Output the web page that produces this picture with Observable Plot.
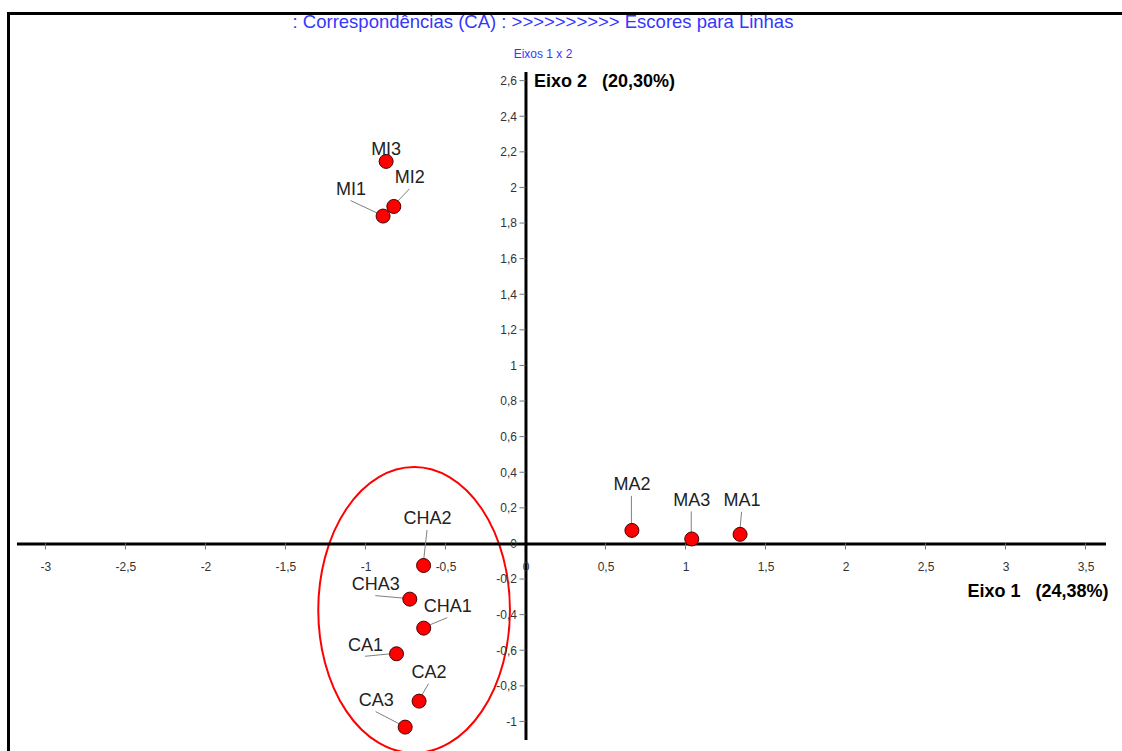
<!DOCTYPE html>
<html>
<head>
<meta charset="utf-8">
<script src="https://cdn.jsdelivr.net/npm/d3@7"></script>
<script src="https://cdn.jsdelivr.net/npm/@observablehq/plot@0.6"></script>
<style>
  html, body { margin: 0; padding: 0; background: #fff; }
  #wrap { position: relative; width: 1122px; height: 751px; overflow: hidden; font-family: "Liberation Sans", Arial, sans-serif; }
  #border { position: absolute; left: 7px; top: 12px; right: 0; bottom: 0; border-top: 3px solid #000; border-left: 3px solid #000; pointer-events: none; }
  #title { position: absolute; left: 0; width: 1086px; top: 11px; text-align: center; color: #3636ff; font-size: 18.5px; line-height: 22px; white-space: pre; }
  #subtitle { position: absolute; left: 0; width: 1086px; top: 47px; text-align: center; color: #3636ff; font-size: 12px; line-height: 14px; }
  #chart { position: absolute; left: 0; top: 0; }
</style>
</head>
<body>
<div id="wrap">
  <div id="chart"></div>
  <div id="border"></div>
  <div id="title">: Correspondências (CA) : &gt;&gt;&gt;&gt;&gt;&gt;&gt;&gt;&gt;&gt; Escores para Linhas</div>
  <div id="subtitle">Eixos 1 x 2</div>
</div>
<script>
// ---- data ----
const names = ["MI3", "MI2", "MI1", "MA2", "MA3", "MA1", "CHA2", "CHA3", "CHA1", "CA1", "CA2", "CA3"];
const eixo1 = [-0.874, -0.826, -0.893, 0.662, 1.036, 1.338, -0.640, -0.726, -0.639, -0.809, -0.668, -0.755];
const eixo2 = [2.149, 1.896, 1.842, 0.076, 0.028, 0.054, -0.121, -0.310, -0.473, -0.617, -0.883, -1.029];
const xTicks = [-3, -2.5, -2, -1.5, -1, -0.5, 0, 0.5, 1, 1.5, 2, 2.5, 3, 3.5];
const yTicks = [-1, -0.8, -0.6, -0.4, -0.2, 0, 0.2, 0.4, 0.6, 0.8, 1, 1.2, 1.4, 1.6, 1.8, 2, 2.2, 2.4, 2.6];
const axisTitleX = "Eixo 1\u00a0\u00a0\u00a0(24,38%)";
const axisTitleY = "Eixo 2\u00a0\u00a0\u00a0(20,30%)";
// highlighted group (ellipse, data units)
const highlightCenter = [-0.696, -0.374];
const highlightRadii = [0.599, 0.803];
// extents of drawn axis lines (data units)
const xAxisExtent = [-3.178, 3.628];
const yAxisExtent = [-1.104, 2.649];

// ---- layout (pixel offsets of labels relative to their point) ----
const labelOffsets = {
  MI3: [0, -12], MI2: [16, -29], MI1: [-32, -27],
  MA2: [0, -46], MA3: [0, -39], MA1: [2, -34],
  CHA2: [4, -47], CHA3: [-34, -15], CHA1: [24, -22],
  CA1: [-31, -9], CA2: [10, -29], CA3: [-29, -27]
};

const rows = names.map((n, i) => ({name: n, x: eixo1[i], y: eixo2[i]}));
const fmt = v => String(v).replace(".", ",");
const FONT = "Liberation Sans, Arial, sans-serif";

function leaders(index, scales) {
  const g = d3.create("svg:g").attr("stroke", "#808080").attr("stroke-width", 1).attr("fill", "none");
  for (const r of rows) {
    const [dx, dy] = labelOffsets[r.name];
    const px = scales.x(r.x), py = scales.y(r.y);
    g.append("line").attr("x1", px + dx).attr("y1", py + dy + 12).attr("x2", px).attr("y2", py);
  }
  return g.node();
}

function ticks(index, scales) {
  const g = d3.create("svg:g").attr("stroke", "#777").attr("stroke-width", 1);
  const x0 = scales.x(0), y0 = scales.y(0);
  for (const v of xTicks) if (v !== 0) g.append("line").attr("x1", scales.x(v)).attr("x2", scales.x(v)).attr("y1", y0).attr("y2", y0 + 6);
  for (const v of yTicks) if (v !== 0) g.append("line").attr("y1", scales.y(v)).attr("y2", scales.y(v)).attr("x1", x0 - 6).attr("x2", x0);
  return g.node();
}

function ellipse(index, scales) {
  const cx = scales.x(highlightCenter[0]), cy = scales.y(highlightCenter[1]);
  const rx = Math.abs(scales.x(highlightCenter[0] + highlightRadii[0]) - cx);
  const ry = Math.abs(scales.y(highlightCenter[1] + highlightRadii[1]) - cy);
  return d3.create("svg:ellipse").attr("cx", cx).attr("cy", cy).attr("rx", rx).attr("ry", ry)
    .attr("fill", "none").attr("stroke", "#ff0000").attr("stroke-width", 2).node();
}

const labelMarks = rows.map(r => Plot.text([r], {
  x: "x", y: "y", text: "name",
  dx: labelOffsets[r.name][0], dy: labelOffsets[r.name][1],
  fontSize: 18, fill: "#222", fontFamily: FONT
}));

const chart = Plot.plot({
  width: 1122,
  height: 751,
  margin: 0,
  style: {background: "transparent", fontFamily: FONT, overflow: "visible"},
  x: {domain: [-3.284, 3.728], range: [0, 1122], axis: null},
  y: {domain: [-1.166, 3.053], range: [751, 0], axis: null},
  marks: [
    ellipse,
    Plot.ruleY([0], {x1: xAxisExtent[0], x2: xAxisExtent[1], stroke: "#000", strokeWidth: 3}),
    Plot.ruleX([0], {y1: yAxisExtent[0], y2: yAxisExtent[1], stroke: "#000", strokeWidth: 3}),
    ticks,
    Plot.text(xTicks, {x: d => d, y: 0, text: d => fmt(d), dy: 23, fontSize: 12, fill: "#333", fontFamily: FONT}),
    Plot.text(yTicks, {x: 0, y: d => d, text: d => fmt(d), dx: -9, textAnchor: "end", fontSize: 12, fill: "#333", fontFamily: FONT}),
    Plot.text([axisTitleY], {x: 0, y: 2.6, text: d => d, dx: 8, textAnchor: "start", fontSize: 18, fontWeight: "bold", fill: "#000", fontFamily: FONT}),
    Plot.text([axisTitleX], {x: xAxisExtent[1], y: 0, text: d => d, dx: 2, dy: 47, textAnchor: "end", fontSize: 18, fontWeight: "bold", fill: "#000", fontFamily: FONT}),
    leaders,
    Plot.dot(rows, {x: "x", y: "y", r: 7, fill: "#ff0000", stroke: "#4a0000", strokeWidth: 1}),
    ...labelMarks
  ]
});
document.getElementById("chart").appendChild(chart);
</script>
</body>
</html>
